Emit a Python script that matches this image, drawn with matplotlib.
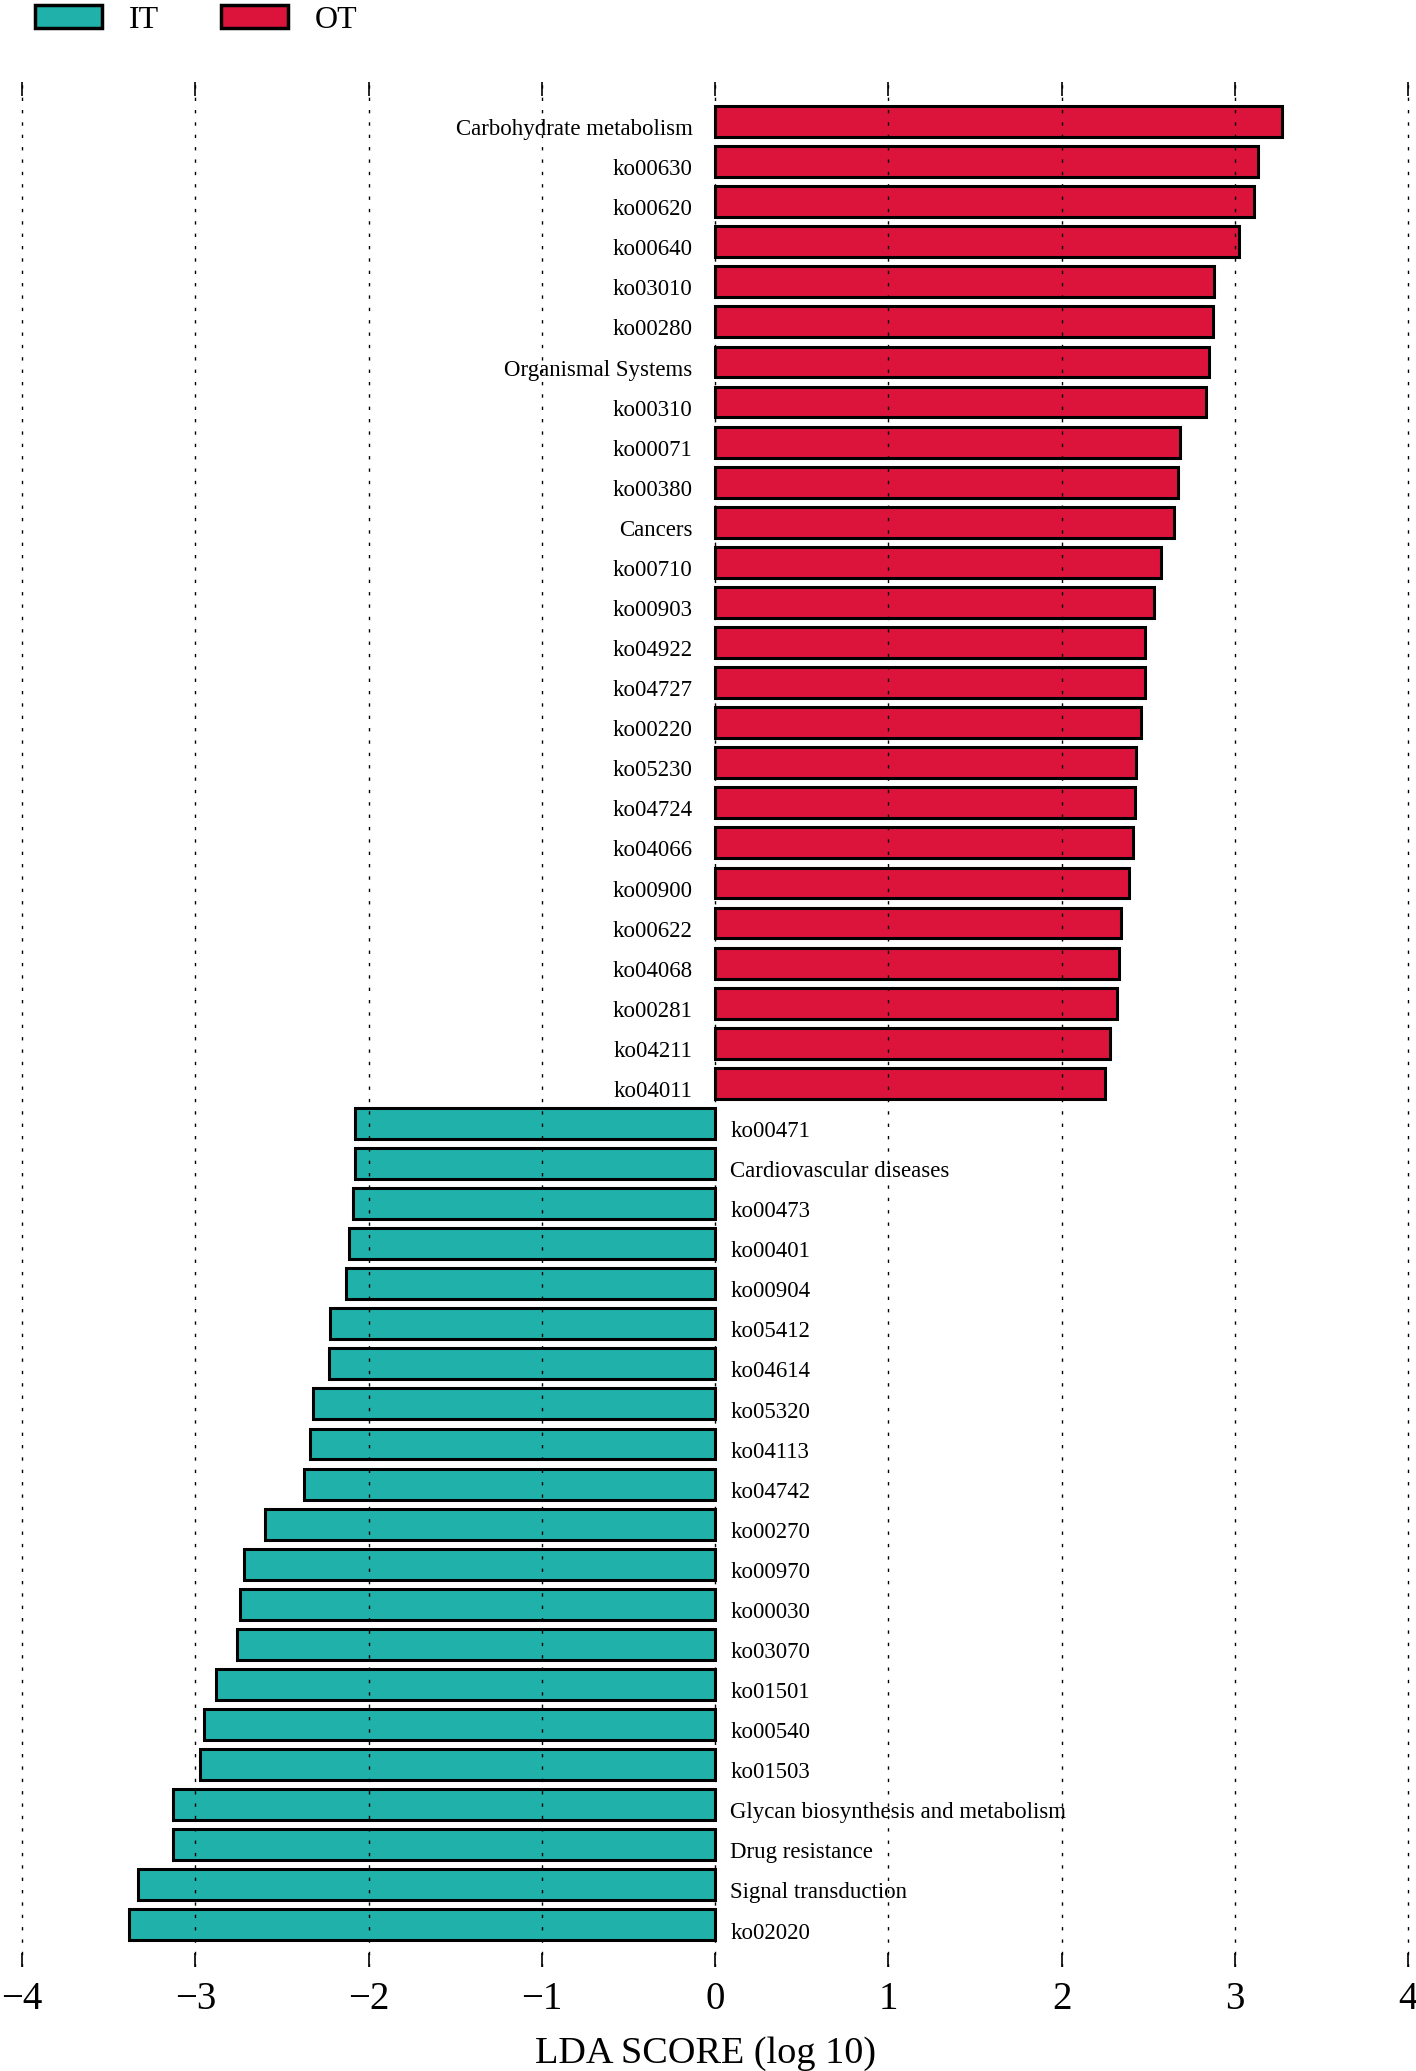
import numpy as np
import matplotlib.pyplot as plt
from matplotlib.patches import Patch

plt.rcParams['font.family'] = ['Liberation Serif', 'DejaVu Serif']

# features enriched in OT (top, red) and IT (bottom, teal), top to bottom
ot_names = ['Carbohydrate metabolism', 'ko00630', 'ko00620', 'ko00640', 'ko03010',
            'ko00280', 'Organismal Systems', 'ko00310', 'ko00071', 'ko00380',
            'Cancers', 'ko00710', 'ko00903', 'ko04922', 'ko04727', 'ko00220',
            'ko05230', 'ko04724', 'ko04066', 'ko00900', 'ko00622', 'ko04068',
            'ko00281', 'ko04211', 'ko04011']
ot_lda = [3.27, 3.13, 3.11, 3.02, 2.88, 2.87, 2.85, 2.83, 2.68, 2.67,
          2.65, 2.57, 2.53, 2.48, 2.48, 2.46, 2.43, 2.42, 2.41, 2.39,
          2.34, 2.33, 2.32, 2.28, 2.25]

it_names = ['ko00471', 'Cardiovascular diseases', 'ko00473', 'ko00401', 'ko00904',
            'ko05412', 'ko04614', 'ko05320', 'ko04113', 'ko04742', 'ko00270',
            'ko00970', 'ko00030', 'ko03070', 'ko01501', 'ko00540', 'ko01503',
            'Glycan biosynthesis and metabolism', 'Drug resistance',
            'Signal transduction', 'ko02020']
it_lda = [2.08, 2.08, 2.09, 2.11, 2.13, 2.22, 2.23, 2.32, 2.34, 2.37, 2.60,
          2.72, 2.74, 2.76, 2.88, 2.95, 2.97, 3.13, 3.13, 3.33, 3.38]

it_color = '#20B2AA'
ot_color = '#DC143C'

names = ot_names + it_names
scores = np.array(ot_lda + [-v for v in it_lda])
colors = [ot_color if s > 0 else it_color for s in scores]
ypos = np.arange(len(names))[::-1]

fig = plt.figure(figsize=(14.16, 20.71), dpi=100)
ax = fig.add_axes([13.3 / 1416, 1 - 1967 / 2071, 1403.7 / 1416, (1967 - 82) / 2071])

ax.barh(ypos, scores, height=0.77, color=colors, edgecolor='black', linewidth=2.2)

for y, s, name in zip(ypos, scores, names):
    if s > 0:
        ax.text(-0.13, y - 0.34, name, ha='right', va='baseline', fontsize=16.5)
    else:
        ax.text(0.087, y - 0.34, name, ha='left', va='baseline', fontsize=16.5)

ax.set_xlim(-4.05, 4.05)
ax.set_ylim(-1.05, len(names) - 1 + 0.985)
ax.set_xticks(range(-4, 5))
ax.set_yticks([])
for sp in ax.spines.values():
    sp.set_visible(False)
ax.tick_params(axis='x', direction='in', length=10, width=1.2, top=True, bottom=True,
               labelsize=28, pad=10)
ax.xaxis.grid(True, linestyle=(0, (2.4, 6.5)), color='black', linewidth=1)
ax.set_axisbelow(False)
ax.set_xlabel('LDA SCORE (log 10)', fontsize=27.5, labelpad=14)
ax.xaxis.set_label_coords(0.4928, -0.037)

handles = [Patch(facecolor=it_color, edgecolor='black', linewidth=2.5, label='IT'),
           Patch(facecolor=ot_color, edgecolor='black', linewidth=2.5, label='OT')]
fig.legend(handles=handles, loc='upper left', bbox_to_anchor=(35 / 1416, 0.9975), ncol=2,
           frameon=False, fontsize=23, handlelength=2.1, handleheight=0.72,
           handletextpad=0.84, columnspacing=1.94, borderpad=0, borderaxespad=0)

fig.savefig('out.png', dpi=100)
